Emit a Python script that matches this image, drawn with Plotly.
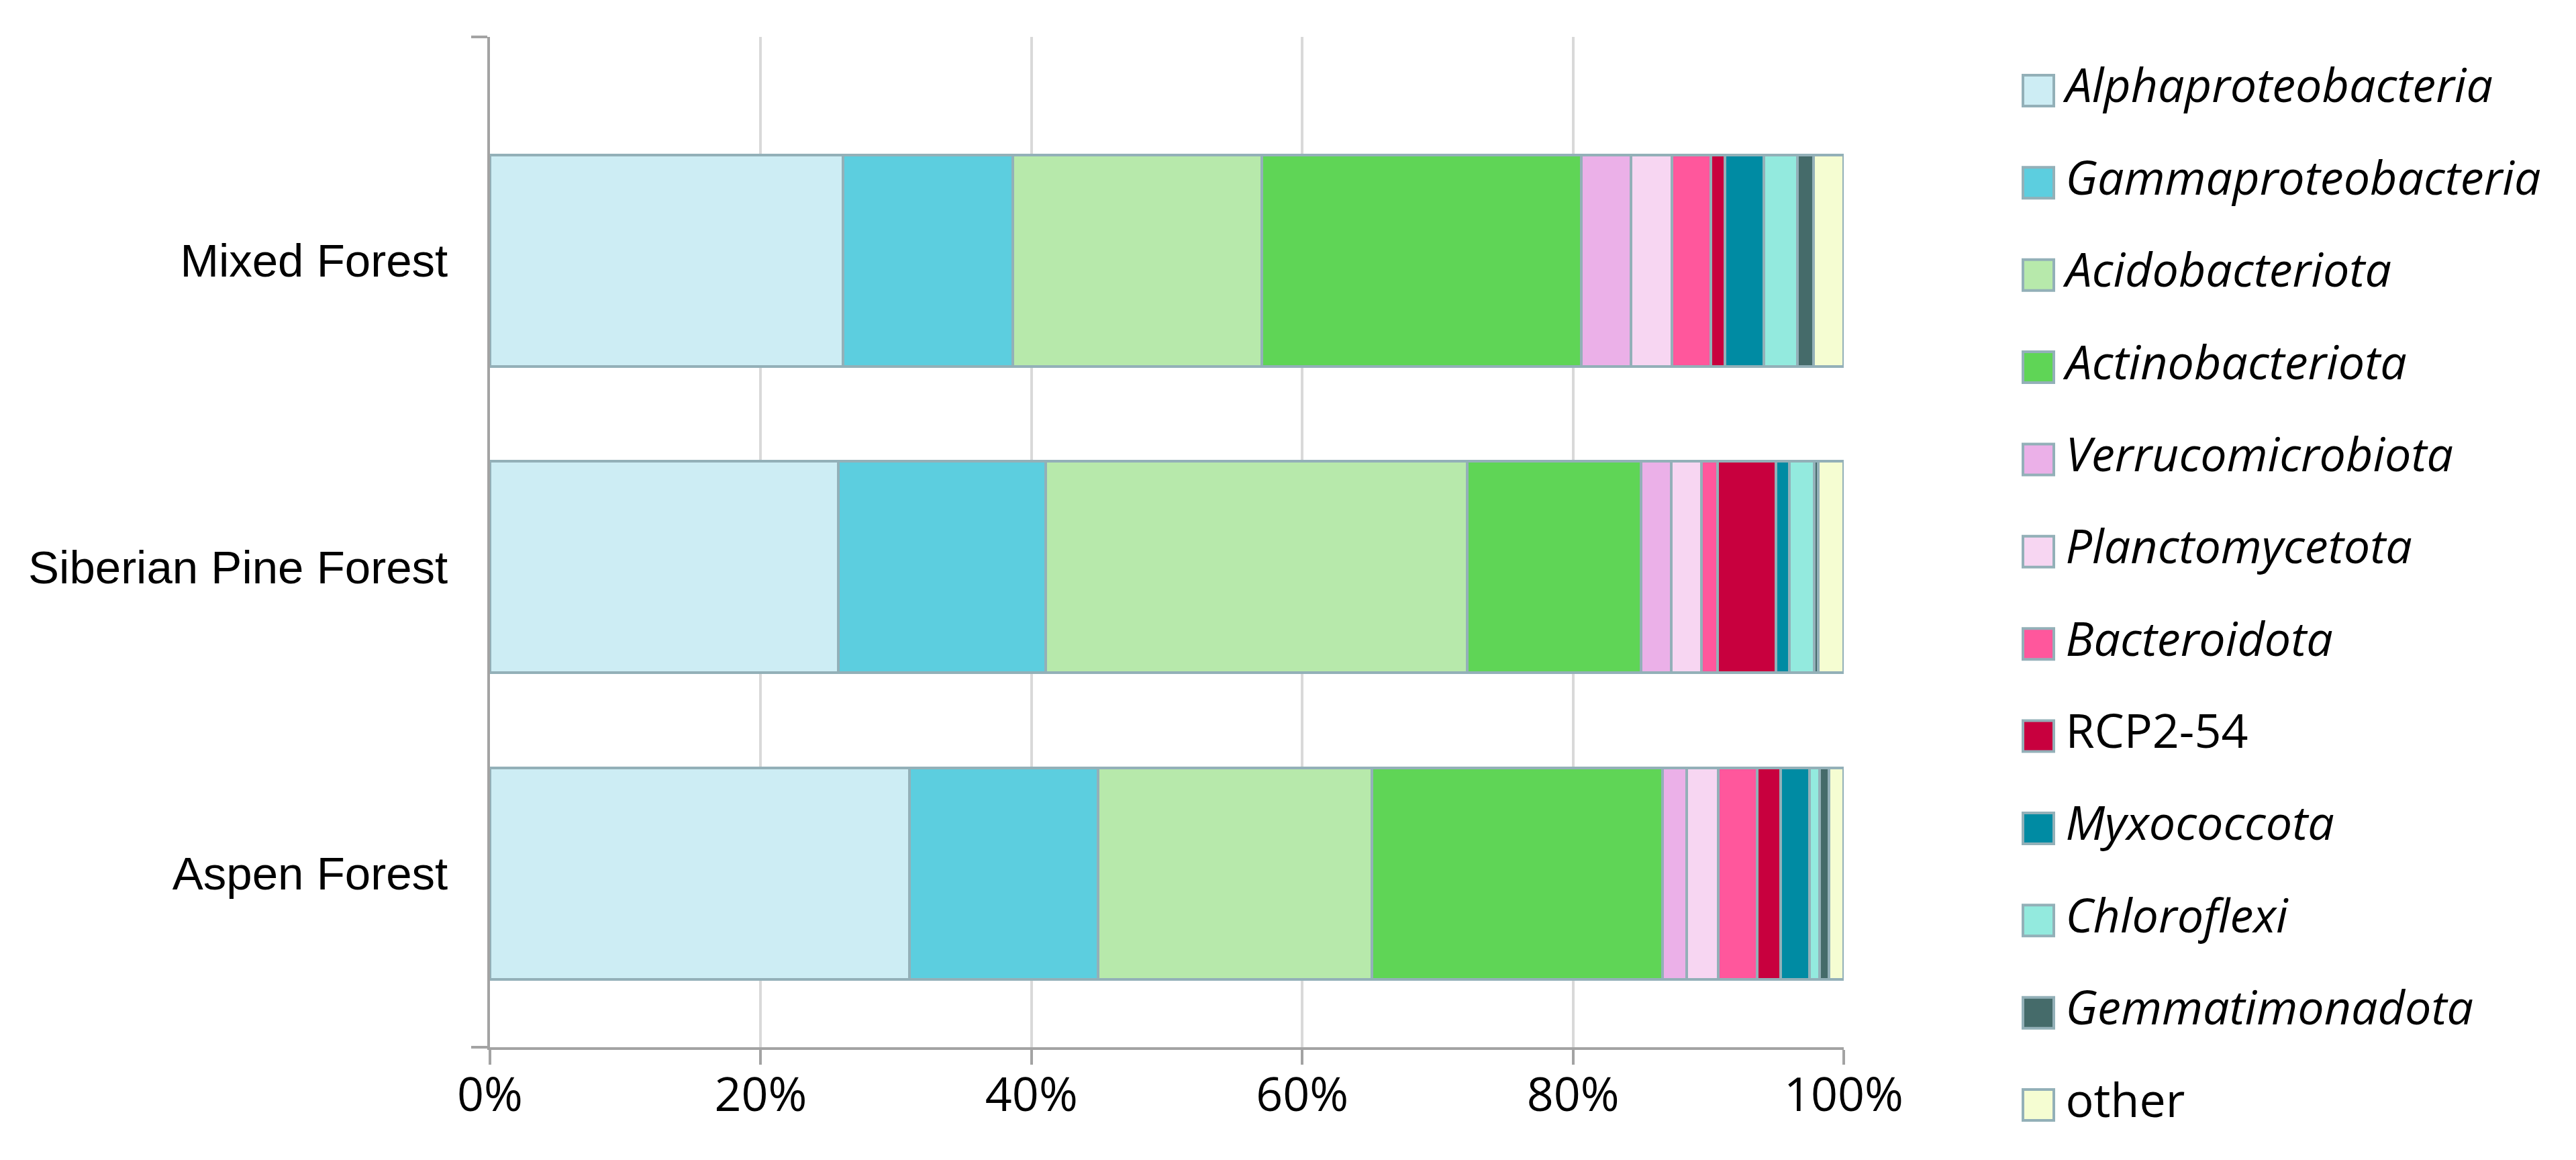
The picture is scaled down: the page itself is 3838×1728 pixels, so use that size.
import plotly.graph_objects as go

# ---------------- data ----------------
sites = ["Aspen Forest", "Siberian Pine Forest", "Mixed Forest"]

taxa = ["Alphaproteobacteria", "Gammaproteobacteria", "Acidobacteriota",
        "Actinobacteriota", "Verrucomicrobiota", "Planctomycetota",
        "Bacteroidota", "RCP2-54", "Myxococcota", "Chloroflexi",
        "Gemmatimonadota", "other"]
italic = [True, True, True, True, True, True, True, False, True, True, True, False]

# relative abundance (%) per site, order follows `sites`
alphaproteobacteria = [31.0, 25.75, 26.1]
gammaproteobacteria = [13.9, 15.3, 12.5]
acidobacteriota     = [20.25, 31.15, 18.4]
actinobacteriota    = [21.45, 12.85, 23.6]
verrucomicrobiota   = [1.8, 2.2, 3.7]
planctomycetota     = [2.35, 2.25, 3.0]
bacteroidota        = [2.85, 1.2, 2.9]
rcp2_54             = [1.75, 4.3, 1.0]
myxococcota         = [2.1, 1.0, 2.9]
chloroflexi         = [0.75, 1.8, 2.5]
gemmatimonadota     = [0.7, 0.3, 1.15]
other               = [1.1, 1.9, 2.25]

values = [alphaproteobacteria, gammaproteobacteria, acidobacteriota,
          actinobacteriota, verrucomicrobiota, planctomycetota, bacteroidota,
          rcp2_54, myxococcota, chloroflexi, gemmatimonadota, other]

colors = ["#cdedf4", "#5ccedf", "#b7e9ab", "#5fd556", "#ebb0e8", "#f7d6f2",
          "#ff579c", "#c8003e", "#008ba3", "#93eade", "#456b6a", "#f5fdd2"]

x_ticks = [0, 20, 40, 60, 80, 100]
x_ticktext = ["0%", "20%", "40%", "60%", "80%", "100%"]

# ---------------- figure ----------------
W, H = 3838, 1728
outline = "#93b0b8"
axis_col = "#a3a3a3"

fig = go.Figure()
for name, vals, col in zip(taxa, values, colors):
    fig.add_trace(go.Bar(
        y=sites, x=vals, name=name, orientation="h",
        marker=dict(color=col, line=dict(color=outline, width=4)),
        width=0.69, showlegend=False, xaxis="x", yaxis="y",
    ))

# legend drawn on its own small axes
leg_idx = list(range(len(taxa)))
leg_text = [("<i>%s</i>" % t) if it else t for t, it in zip(taxa, italic)]
fig.add_trace(go.Scatter(
    x=[0] * len(taxa), y=leg_idx, mode="markers",
    marker=dict(symbol="square", size=46, color=colors,
                line=dict(color=outline, width=4)),
    xaxis="x2", yaxis="y2", showlegend=False, hoverinfo="skip",
    cliponaxis=False,
))
fig.add_trace(go.Scatter(
    x=[0.05] * len(taxa), y=leg_idx, mode="text",
    text=leg_text, textposition="middle right",
    textfont=dict(family="Open Sans", size=70, color="black"),
    xaxis="x2", yaxis="y2", showlegend=False, hoverinfo="skip",
    cliponaxis=False,
))

fig.update_layout(
    template="none",
    width=W, height=H, autosize=False,
    margin=dict(l=0, r=0, t=0, b=0, autoexpand=False),
    paper_bgcolor="white", plot_bgcolor="white",
    barmode="stack",
    showlegend=False,
    xaxis=dict(
        domain=[722 / W, 2739 / W], range=[0, 100], automargin=False,
        tickvals=x_ticks, ticktext=x_ticktext,
        showgrid=True, gridcolor="#d9d9d9", gridwidth=4,
        showline=True, linecolor=axis_col, linewidth=4,
        ticks="outside", ticklen=22, tickwidth=4, tickcolor=axis_col,
        ticklabelstandoff=-15,
        tickfont=dict(family="Open Sans", size=70, color="black"),
        zeroline=False, fixedrange=True, anchor="y",
    ),
    yaxis=dict(
        domain=[1 - 1552 / H, 1 - 47 / H], automargin=False,
        type="category", categoryorder="array", categoryarray=sites,
        range=[-0.567, 2.73],
        showline=True, linecolor=axis_col, linewidth=4,
        ticks="", ticklabelstandoff=45,
        tickfont=dict(family="Liberation Sans, Arial", size=69, color="black"),
        showgrid=False, zeroline=False, fixedrange=True, anchor="x",
        minor=dict(tickvals=[-0.567, 2.73], ticks="outside", ticklen=24,
                   tickwidth=4, tickcolor=axis_col, showgrid=False),
    ),
    xaxis2=dict(domain=[3029 / W, 1.0], range=[0, 1], visible=False,
                fixedrange=True, anchor="y2", automargin=False),
    yaxis2=dict(domain=[0, 1], range=[11 + (H - 1638) / 137.4, -127 / 137.4],
                visible=False, anchor="x2", fixedrange=True, automargin=False),
)

fig.write_html("out.html")
